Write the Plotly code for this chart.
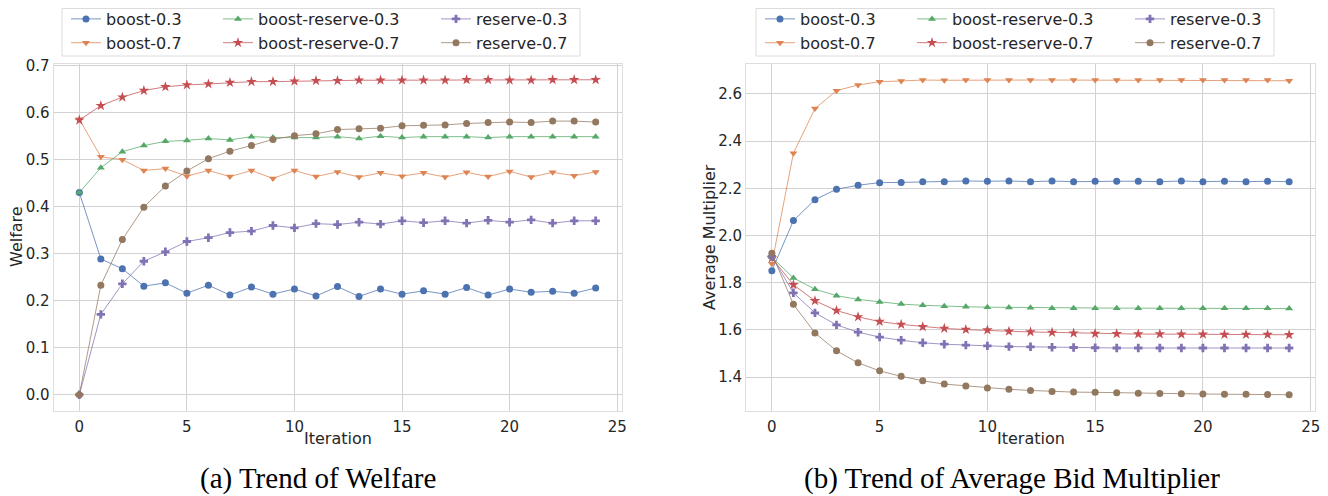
import plotly.graph_objects as go

iterations = list(range(25))
names = ["boost-0.3", "boost-0.7", "boost-reserve-0.3", "boost-reserve-0.7", "reserve-0.3", "reserve-0.7"]
colors = ["#4C72B0", "#DD8452", "#55A868", "#C44E52", "#8172B3", "#937860"]
symbols = ["circle", "triangle-down", "triangle-up", "star", "cross", "circle"]
sizes = [7, 7, 7, 8, 7, 7]

welfare_boost_03 = [0.430, 0.289, 0.268, 0.231, 0.238, 0.216, 0.233, 0.212, 0.229, 0.214, 0.225, 0.210, 0.230,
                    0.209, 0.225, 0.214, 0.221, 0.214, 0.228, 0.212, 0.225, 0.218, 0.220, 0.216, 0.227]
welfare_boost_07 = [0.586, 0.506, 0.500, 0.477, 0.481, 0.465, 0.477, 0.464, 0.477, 0.460, 0.477, 0.464, 0.474,
                    0.463, 0.472, 0.465, 0.472, 0.463, 0.473, 0.464, 0.475, 0.463, 0.473, 0.466, 0.474]
welfare_br_03 = [0.430, 0.483, 0.517, 0.530, 0.539, 0.541, 0.545, 0.542, 0.549, 0.547, 0.547, 0.547, 0.549,
                 0.545, 0.550, 0.547, 0.549, 0.549, 0.549, 0.547, 0.549, 0.549, 0.549, 0.549, 0.549]
welfare_br_07 = [0.584, 0.615, 0.633, 0.647, 0.655, 0.659, 0.661, 0.664, 0.666, 0.666, 0.667, 0.668, 0.668,
                 0.669, 0.669, 0.669, 0.669, 0.669, 0.670, 0.670, 0.669, 0.669, 0.670, 0.670, 0.670]
welfare_res_03 = [0.000, 0.171, 0.236, 0.284, 0.304, 0.326, 0.334, 0.345, 0.348, 0.360, 0.355, 0.364, 0.362,
                  0.367, 0.363, 0.370, 0.366, 0.370, 0.365, 0.371, 0.367, 0.372, 0.365, 0.370, 0.370]
welfare_res_07 = [0.000, 0.233, 0.330, 0.399, 0.444, 0.476, 0.502, 0.518, 0.530, 0.543, 0.551, 0.555, 0.564,
                  0.566, 0.567, 0.572, 0.573, 0.574, 0.577, 0.579, 0.580, 0.579, 0.582, 0.582, 0.580]

mult_boost_03 = [1.851, 2.063, 2.152, 2.196, 2.213, 2.224, 2.225, 2.228, 2.228, 2.231, 2.230, 2.231, 2.228,
                 2.231, 2.228, 2.230, 2.230, 2.230, 2.228, 2.231, 2.228, 2.230, 2.228, 2.230, 2.228]
mult_boost_07 = [1.880, 2.349, 2.538, 2.614, 2.638, 2.652, 2.655, 2.659, 2.658, 2.659, 2.659, 2.659, 2.659,
                 2.659, 2.659, 2.659, 2.659, 2.659, 2.659, 2.659, 2.659, 2.659, 2.659, 2.659, 2.656]
mult_br_03 = [1.908, 1.820, 1.772, 1.745, 1.729, 1.718, 1.709, 1.704, 1.700, 1.698, 1.696, 1.695, 1.694,
              1.692, 1.692, 1.692, 1.692, 1.692, 1.692, 1.691, 1.691, 1.691, 1.691, 1.691, 1.690]
mult_br_07 = [1.905, 1.791, 1.723, 1.682, 1.655, 1.635, 1.623, 1.613, 1.606, 1.601, 1.599, 1.594, 1.591,
              1.589, 1.586, 1.584, 1.583, 1.582, 1.582, 1.581, 1.581, 1.580, 1.580, 1.580, 1.579]
mult_res_03 = [1.911, 1.757, 1.672, 1.621, 1.590, 1.569, 1.556, 1.545, 1.539, 1.535, 1.532, 1.529, 1.528,
               1.526, 1.525, 1.524, 1.523, 1.523, 1.523, 1.523, 1.523, 1.523, 1.523, 1.523, 1.523]
mult_res_07 = [1.925, 1.708, 1.587, 1.511, 1.460, 1.426, 1.403, 1.384, 1.370, 1.362, 1.353, 1.348, 1.343,
               1.339, 1.336, 1.335, 1.333, 1.331, 1.330, 1.329, 1.328, 1.327, 1.327, 1.326, 1.325]

welfare_series = [welfare_boost_03, welfare_boost_07, welfare_br_03, welfare_br_07, welfare_res_03, welfare_res_07]
mult_series = [mult_boost_03, mult_boost_07, mult_br_03, mult_br_07, mult_res_03, mult_res_07]

x_ticks = [0, 5, 10, 15, 20, 25]
welfare_ticks = [0.0, 0.1, 0.2, 0.3, 0.4, 0.5, 0.6, 0.7]
mult_ticks = [1.4, 1.6, 1.8, 2.0, 2.2, 2.4, 2.6]

# page body has an 8px margin: the figure is drawn 8px right/down of the window corner
OFF = 8
FW, FH = 1328 - OFF, 496 - OFF
TXT = "#262626"
GRID = "#d2d2d2"
SPINE = "#dedede"


def px_x(p):
    return (p - OFF) / FW


def px_y(p):
    return 1 - (p - OFF) / FH


def rgba(hexc, a):
    h = hexc.lstrip("#")
    return "rgba(%d,%d,%d,%.2f)" % (int(h[0:2], 16), int(h[2:4], 16), int(h[4:6], 16), a)


fig = go.Figure()

legend_col = [0, 0, 1, 1, 2, 2]

for panel, series in enumerate([welfare_series, mult_series]):
    xa = "x" if panel == 0 else "x2"
    ya = "y" if panel == 0 else "y2"
    for i, (name, vals) in enumerate(zip(names, series)):
        leg_idx = panel * 3 + legend_col[i] + 1
        leg = "legend" if leg_idx == 1 else "legend%d" % leg_idx
        fig.add_trace(go.Scatter(
            x=iterations, y=vals, name=name, mode="lines+markers",
            xaxis=xa, yaxis=ya, legend=leg,
            line=dict(color=rgba(colors[i], 0.75), width=1),
            marker=dict(symbol=symbols[i], size=sizes[i], color=colors[i], line=dict(width=0)),
        ))

axis_common = dict(
    showgrid=True, gridcolor=GRID, gridwidth=1,
    showline=True, linecolor=SPINE, linewidth=1, mirror=True,
    zeroline=False, ticks="", automargin=False,
    tickfont=dict(family="DejaVu Sans", size=15, color=TXT),
)

y_dom = [px_y(410.5), px_y(64)]
fig.update_layout(
    width=FW, height=FH,
    margin=dict(l=0, r=0, t=0, b=0, autoexpand=False),
    paper_bgcolor="white", plot_bgcolor="white",
    showlegend=True,
    xaxis=dict(domain=[px_x(53.5), px_x(621.5)], range=[-1.2, 25.2], tickvals=x_ticks, anchor="y",
               ticklabelstandoff=2, **axis_common),
    yaxis=dict(domain=y_dom, range=[-0.0335, 0.7035], tickvals=welfare_ticks, tickformat=".1f", anchor="x",
               **axis_common),
    xaxis2=dict(domain=[px_x(746), px_x(1315)], range=[-1.2, 25.2], tickvals=x_ticks, anchor="y2",
                ticklabelstandoff=2, **axis_common),
    yaxis2=dict(domain=y_dom, range=[1.258, 2.727], tickvals=mult_ticks, tickformat=".1f", anchor="x2",
                **axis_common),
)

# axis titles
title_font = dict(family="DejaVu Sans", size=16, color=TXT)
for text, x, y, ang in [("Welfare", 17, 237, -90), ("Average Multiplier", 710, 237, -90),
                        ("Iteration", 338, 438, 0), ("Iteration", 1031, 438, 0)]:
    fig.add_annotation(text=text, xref="paper", yref="paper", x=px_x(x), y=px_y(y),
                       xanchor="center", yanchor="middle", showarrow=False, textangle=ang,
                       font=title_font)

# legends: three columns per panel
box_left = [62, 756]
col_text = [51, 203, 421]
for panel in range(2):
    for c in range(3):
        idx = panel * 3 + c + 1
        key = "legend" if idx == 1 else "legend%d" % idx
        fig.update_layout({key: dict(
            x=px_x(box_left[panel] + col_text[c] - 47), xanchor="left",
            y=px_y(2), yanchor="top", orientation="v",
            bgcolor="rgba(0,0,0,0)", borderwidth=0,
            font=dict(family="DejaVu Sans", size=16, color=TXT),
            tracegroupgap=0,
        )})
    fig.add_shape(type="rect", xref="paper", yref="paper",
                  x0=px_x(box_left[panel]), x1=px_x(box_left[panel] + 518),
                  y0=px_y(56), y1=px_y(8.5),
                  line=dict(color="#dcdcdc", width=1), fillcolor="rgba(255,255,255,0.8)", layer="below")

captions = ["(a) Trend of Welfare", "(b) Trend of Average Bid Multiplier"]
cap_x = [318, 1012]
for t, cx in zip(captions, cap_x):
    fig.add_annotation(text=t, xref="paper", yref="paper", x=px_x(cx), y=px_y(478),
                       xanchor="center", yanchor="middle", showarrow=False,
                       font=dict(family="Liberation Serif", size=29, color="black"))

fig.write_html("out.html")
